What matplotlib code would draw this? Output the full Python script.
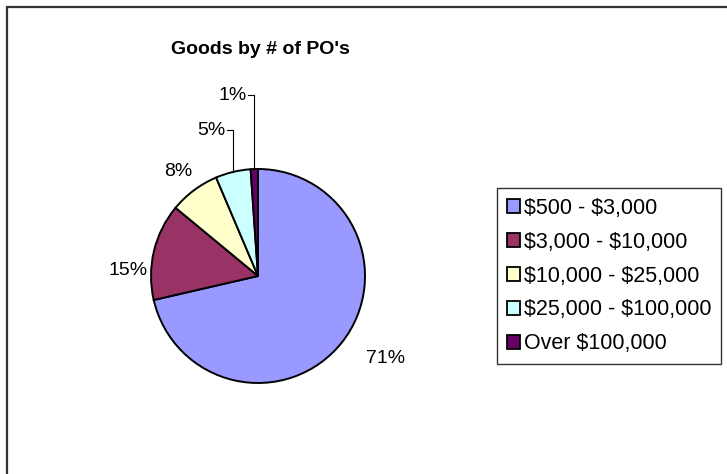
import numpy as np
import matplotlib.pyplot as plt
from matplotlib.patches import Rectangle

plt.rcParams['font.family'] = ['Liberation Sans', 'DejaVu Sans']

# data
categories = ["\\$500 - \\$3,000", "\\$3,000 - \\$10,000", "\\$10,000 - \\$25,000",
              "\\$25,000 - \\$100,000", "Over \\$100,000"]
values = [71.4, 14.6, 7.6, 5.3, 1.1]
colors = ["#9999FF", "#993366", "#FFFFCC", "#CCFFFF", "#660066"]

# label positions (in pie radii); leader-line labels are right-aligned
label_pos = [(1.19, -0.77), (-1.21, 0.05), (-0.75, 0.98), (-0.42, 1.36), (-0.20, 1.69)]
leader = [False, False, False, True, True]

W, H = 727, 474
fig = plt.figure(figsize=(W / 100, H / 100), dpi=100)

# chart area border (runs off right and bottom edge)
fig.patches.append(Rectangle((7 / W, -0.1), 1.2, 1.1 - 7 / H, transform=fig.transFigure,
                             fill=False, edgecolor="#333333", lw=1.6))

cx, cy, R = 258, 276, 107
ax = fig.add_axes([(cx - R) / W, (H - cy - R) / H, 2 * R / W, 2 * R / H])
wedges, _ = ax.pie(values, colors=colors, startangle=90, counterclock=False,
                   wedgeprops=dict(edgecolor="black", linewidth=1.4))
ax.set_xlim(-1, 1)
ax.set_ylim(-1, 1)
ax.set_aspect("equal")
ax.axis("off")

total = sum(values)
for w, v, (lx, ly), ld in zip(wedges, values, label_pos, leader):
    txt = f"{v / total * 100:.0f}%"
    if ld:
        mid = np.deg2rad((w.theta1 + w.theta2) / 2)
        ex, ey = np.cos(mid), np.sin(mid)
        ax.plot([ex - 0.06, ex, ex], [ly, ly, ey], color="black", lw=0.8, clip_on=False)
        ax.text(ex - 0.075, ly, txt, ha="right", va="center", fontsize=14, clip_on=False)
    else:
        ax.text(lx, ly, txt, ha="center", va="center", fontsize=14, clip_on=False)

fig.text(260 / W, 1 - 50 / H, "Goods by # of PO's", ha="center", va="center",
         fontsize=14, fontweight="bold")

leg = fig.legend(wedges, categories, loc="upper left",
                 bbox_to_anchor=(497 / W, 1 - 188 / H), borderaxespad=0,
                 fontsize=15.5, frameon=True, fancybox=False, edgecolor="black",
                 handlelength=0.6, handleheight=0.6, handletextpad=0.2,
                 labelspacing=0.6, borderpad=0.45)
leg.get_frame().set_linewidth(1.0)
for h in leg.legend_handles:
    h.set_edgecolor("black")
    h.set_linewidth(1.3)

fig.savefig("out.png", dpi=100)
